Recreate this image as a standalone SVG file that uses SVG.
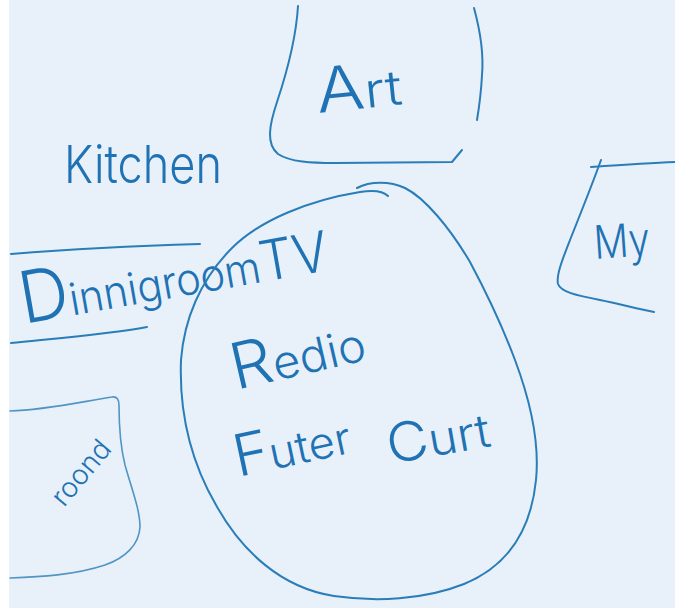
<svg xmlns="http://www.w3.org/2000/svg" width="675" height="616" viewBox="0 0 675 616">
  <style>
    .ink { fill: none; stroke: #2a7db8; stroke-width: 2; stroke-linecap: round; stroke-linejoin: round; }
    .faint { stroke-width: 1.6; stroke-opacity: 0.8; }
    .hand { font-family: Inter, "Liberation Sans", sans-serif; font-weight: 300; fill: #1f72b4; }
  </style>

  <!-- board surface -->
  <rect x="0" y="0" width="675" height="616" fill="#ffffff"/>
  <rect x="9" y="0" width="666" height="608" fill="#e8f1f9"/>

  <!-- Art -->
  <g id="node-art">
    <path class="ink" d="M298,6 C296,40 287,72 277,102 C269,126 266,144 278,154 C290,162 312,163 335,163 L452,162 L462,150"/>
    <path class="ink" d="M474,8 C480,30 484,52 482,75 C481,95 479,108 477,120"/>
    <text class="hand" x="318" y="113" font-size="62" textLength="86" lengthAdjust="spacingAndGlyphs" transform="rotate(-6 318 113)">A<tspan font-size="48">rt</tspan></text>
  </g>

  <!-- Kitchen -->
  <g id="node-kitchen">
    <text class="hand" x="64" y="183" font-size="52" textLength="158" lengthAdjust="spacingAndGlyphs">Kitchen</text>
  </g>

  <!-- Dinnigroom TV -->
  <g id="node-dining">
    <path class="ink" d="M11,254 C60,250 130,246 200,244"/>
    <path class="ink" d="M11,343 C60,338 110,334 147,327"/>
    <text class="hand" x="24" y="324" font-size="44" textLength="312" lengthAdjust="spacingAndGlyphs" transform="rotate(-10 24 324)"><tspan font-size="72">D</tspan>innigroom<tspan font-size="56">TV</tspan></text>
  </g>

  <!-- central living space -->
  <g id="node-living">
    <path class="ink" d="M388,196 C382,190 372,190 360,192 C310,200 260,220 232,248 C200,280 184,320 181,360 C179,412 190,460 216,505 C242,552 282,588 334,596 C375,602 424,600 464,584 C508,566 531,530 536,480 C540,440 530,400 515,360 C500,320 485,290 470,262 C450,228 425,198 405,188 C390,181 370,181 357,188"/>
    <text class="hand" x="236" y="390" font-size="46" textLength="136" lengthAdjust="spacingAndGlyphs" transform="rotate(-13 236 390)"><tspan font-size="64">R</tspan>edio</text>
    <text class="hand" x="238" y="477" font-size="44" textLength="118" lengthAdjust="spacingAndGlyphs" transform="rotate(-12 238 477)"><tspan font-size="58">F</tspan>uter</text>
    <text class="hand" x="390" y="464" font-size="46" textLength="104" lengthAdjust="spacingAndGlyphs" transform="rotate(-10 390 464)"><tspan font-size="54">C</tspan>urt</text>
  </g>

  <!-- My -->
  <g id="node-my">
    <path class="ink" d="M591,167 C620,165 650,163 675,162"/>
    <path class="ink" d="M601,160 C592,185 580,215 570,240 C563,258 556,275 558,284 C561,292 575,295 600,300 C620,304 638,309 654,312"/>
    <text class="hand" x="595" y="259" font-size="46" textLength="56" lengthAdjust="spacingAndGlyphs" transform="rotate(-4 595 259)">My</text>
  </g>

  <!-- room -->
  <g id="node-room">
    <path class="ink faint" d="M10,411 C45,410 80,402 112,397 C117,396 119,400 119,405 C119,425 120,445 125,465 C132,490 140,510 140,527 C139,545 125,558 105,565 C75,575 40,577 10,578"/>
    <text class="hand" x="64" y="508" font-size="28" transform="rotate(-50 64 508)">roond</text>
  </g>
</svg>
